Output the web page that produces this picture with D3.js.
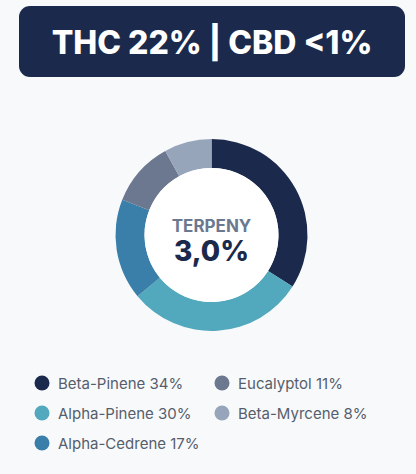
<!DOCTYPE html>
<html><head><meta charset="utf-8">
<script src="https://cdn.jsdelivr.net/npm/d3@7"></script>
<style>
html,body{margin:0;padding:0;background:#f8f9fb;}
svg{display:block;}
</style></head>
<body>
<script>
const title = "THC 22% | CBD <1%";
const centerLabel = "TERPENY";
const centerValue = "3,0%";
const categories = ["Beta-Pinene","Alpha-Pinene","Alpha-Cedrene","Eucalyptol","Beta-Myrcene"];
const values = [34,30,17,11,8];
const colors = ["#1b2a4c","#52a8bc","#3a7fa9","#6b788f","#97a5bb"];

const W=416,H=474;
const svg=d3.select("body").append("svg").attr("width",W).attr("height",H);
svg.append("rect").attr("width",W).attr("height",H).attr("fill","#f8f9fb");

// header
svg.append("rect").attr("x",19).attr("y",6).attr("width",386).attr("height",71).attr("rx",11).attr("fill","#1b2a4c");
svg.append("text").attr("x",212).attr("y",54).attr("text-anchor","middle")
  .attr("font-family","Inter, 'Open Sans', sans-serif").attr("font-weight",800).attr("font-size",32)
  .attr("fill","#ffffff").text(title);

// donut
const cx=211.5, cy=235, R=96, r=67;
const data=categories.map((c,i)=>({name:c,value:values[i],color:colors[i]}));
const pie=d3.pie().value(d=>d.value).sort(null);
const arc=d3.arc().innerRadius(r).outerRadius(R);
const g=svg.append("g").attr("transform",`translate(${cx},${cy})`);
g.selectAll("path").data(pie(data)).join("path").attr("d",arc).attr("fill",d=>d.data.color);
g.append("circle").attr("r",r).attr("fill","#ffffff");
g.append("text").attr("y",-3).attr("text-anchor","middle")
  .attr("font-family","Inter, 'Open Sans', sans-serif").attr("font-weight",700).attr("font-size",17)
  .attr("fill","#6b788f").text(centerLabel);
g.append("text").attr("y",26).attr("text-anchor","middle")
  .attr("font-family","Inter, 'Open Sans', sans-serif").attr("font-weight",800).attr("font-size",28)
  .attr("fill","#1b2a4c").text(centerValue);

// legend
const col=i=> i<3?0:1, row=i=> i<3?i:i-3;
const lg=svg.append("g");
const items=lg.selectAll("g").data(data).join("g")
  .attr("transform",(d,i)=>`translate(${col(i)?222:42},${383+row(i)*30})`);
items.append("circle").attr("r",7.5).attr("fill",d=>d.color);
items.append("text").attr("x",16).attr("y",5.5)
  .attr("font-family","Inter, 'Open Sans', sans-serif").attr("font-size",15)
  .attr("fill","#555e6c").text(d=>`${d.name} ${d.value}%`);
</script>
</body></html>
